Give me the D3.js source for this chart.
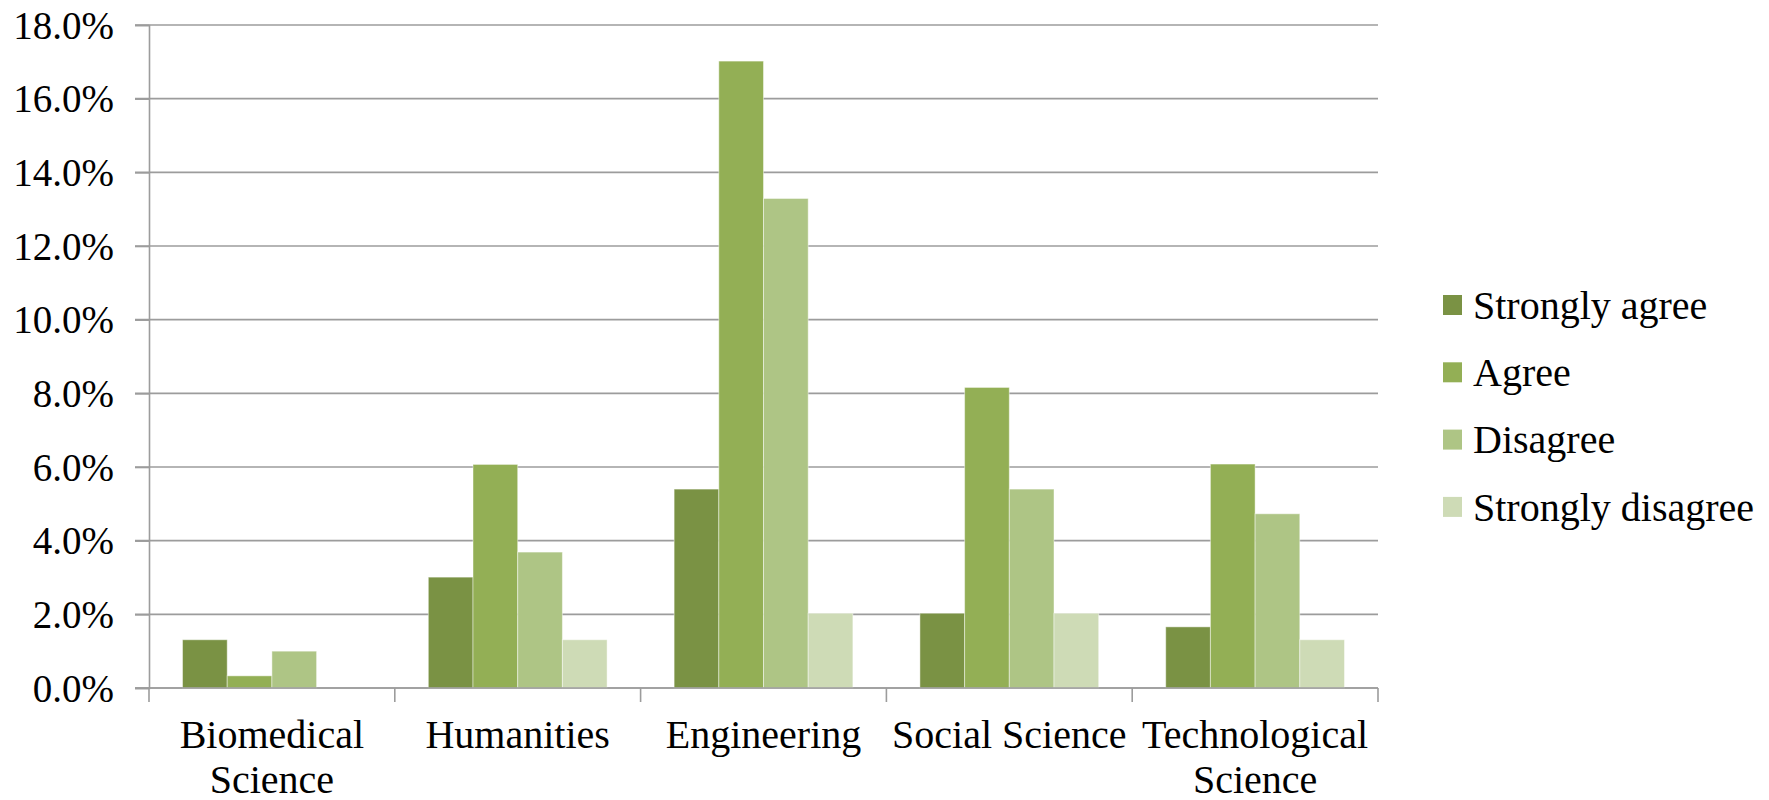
<!DOCTYPE html>
<html>
<head>
<meta charset="utf-8">
<script src="https://cdn.jsdelivr.net/npm/d3@7"></script>
<style>
  html, body { margin: 0; padding: 0; background: #fff; }
  svg { display: block; }
</style>
</head>
<body>
<svg id="chart" width="1769" height="800"></svg>
<script>
// Fields of study along the horizontal axis
const categories = ["Biomedical Science", "Humanities", "Engineering", "Social Science", "Technological Science"];

// Response options (one bar per option inside each field)
const seriesNames = ["Strongly agree", "Agree", "Disagree", "Strongly disagree"];

// Share of respondents, in percent, per field
const stronglyAgree    = [1.31, 3.01, 5.40, 2.03, 1.66];
const agree            = [0.33, 6.07, 17.02, 8.16, 6.08];
const disagree         = [1.00, 3.69, 13.29, 5.40, 4.73];
const stronglyDisagree = [0.00, 1.31, 2.03, 2.03, 1.31];

// Y axis tick values (percent)
const yTicks = [0, 2, 4, 6, 8, 10, 12, 14, 16, 18];

const seriesValues = [stronglyAgree, agree, disagree, stronglyDisagree];
const colors = ["#7a9244", "#93af55", "#aec585", "#cedbb6"];
const FONT = '"Liberation Serif"';

const svg = d3.select("#chart").style("font-family", FONT);

const plot = { left: 149, right: 1378, top: 25, bottom: 688 };

const x = d3.scaleBand()
  .domain(categories)
  .range([plot.left, plot.right])
  .paddingInner(0)
  .paddingOuter(0);

const xInner = d3.scaleBand()
  .domain(seriesNames)
  .range([0, x.bandwidth()])
  .paddingInner(0)
  .paddingOuter(0.75);

const y = d3.scaleLinear()
  .domain([0, 18])
  .range([plot.bottom, plot.top]);

const gridColor = "#9c9c9c";

// Horizontal gridlines, extending slightly left of the axis like tick marks
svg.append("g")
  .selectAll("line")
  .data(yTicks)
  .join("line")
  .attr("x1", plot.left - 14)
  .attr("x2", plot.right)
  .attr("y1", d => y(d))
  .attr("y2", d => y(d))
  .attr("stroke", gridColor)
  .attr("stroke-width", 1.6);

// Y axis
const yAxis = svg.append("g")
  .attr("transform", `translate(${plot.left},0)`)
  .call(d3.axisLeft(y)
    .tickValues(yTicks)
    .tickSize(14)
    .tickPadding(21)
    .tickFormat(d => d.toFixed(1) + "%"));
yAxis.attr("font-family", null).attr("font-size", null);
yAxis.select(".domain").attr("stroke", gridColor).attr("stroke-width", 1.6);
yAxis.selectAll(".tick line").attr("stroke", gridColor).attr("stroke-width", 1.6);
yAxis.selectAll(".tick text")
  .style("font-family", FONT)
  .style("font-size", "39px")
  .attr("fill", "#000")
  .attr("dy", "0.34em");

// Bars
const groups = svg.append("g")
  .selectAll("g")
  .data(categories)
  .join("g")
  .attr("transform", d => `translate(${x(d)},0)`);

groups.selectAll("rect")
  .data((c, ci) => seriesNames.map((s, si) => ({ series: s, si, value: seriesValues[si][ci] })))
  .join("rect")
  .filter(d => d.value > 0)
  .attr("x", d => xInner(d.series))
  .attr("width", xInner.bandwidth())
  .attr("y", d => y(d.value))
  .attr("height", d => y(0) - y(d.value))
  .attr("fill", d => colors[d.si])
  .attr("stroke", "rgba(255,255,255,0.45)")
  .attr("stroke-width", 1);

// X axis baseline and category boundary ticks
svg.append("line")
  .attr("x1", plot.left - 14)
  .attr("x2", plot.right)
  .attr("y1", y(0))
  .attr("y2", y(0))
  .attr("stroke", gridColor)
  .attr("stroke-width", 1.6);

const boundaries = categories.map(c => x(c)).concat([x(categories[categories.length - 1]) + x.bandwidth()]);
svg.append("g")
  .selectAll("line")
  .data(boundaries)
  .join("line")
  .attr("x1", d => d)
  .attr("x2", d => d)
  .attr("y1", y(0))
  .attr("y2", y(0) + 14)
  .attr("stroke", gridColor)
  .attr("stroke-width", 1.6);

// Category labels, wrapped to fit the band width
const labels = svg.append("g")
  .selectAll("text")
  .data(categories)
  .join("text")
  .attr("x", d => x(d) + x.bandwidth() / 2)
  .attr("y", 748)
  .attr("text-anchor", "middle")
  .attr("fill", "#000")
  .style("font-family", FONT)
  .style("font-size", "40px");

labels.each(function(d) {
  const el = d3.select(this);
  const words = d.split(" ");
  const cx = x(d) + x.bandwidth() / 2;
  let line = [];
  let tspan = el.append("tspan").attr("x", cx).attr("dy", 0);
  words.forEach(w => {
    line.push(w);
    tspan.text(line.join(" "));
    if (tspan.node().getComputedTextLength() > x.bandwidth() && line.length > 1) {
      line.pop();
      tspan.text(line.join(" "));
      line = [w];
      tspan = el.append("tspan").attr("x", cx).attr("dy", 45).text(w);
    }
  });
});

// Legend
const legend = svg.append("g")
  .selectAll("g")
  .data(seriesNames)
  .join("g")
  .attr("transform", (d, i) => `translate(1443, ${305 + i * 67.3})`);

legend.append("rect")
  .attr("x", 0)
  .attr("y", -10)
  .attr("width", 19)
  .attr("height", 20)
  .attr("fill", (d, i) => colors[i]);

legend.append("text")
  .attr("x", 30)
  .attr("y", 0)
  .attr("dy", "0.34em")
  .attr("fill", "#000")
  .style("font-family", FONT)
  .style("font-size", "40px")
  .text(d => d);
</script>
</body>
</html>
